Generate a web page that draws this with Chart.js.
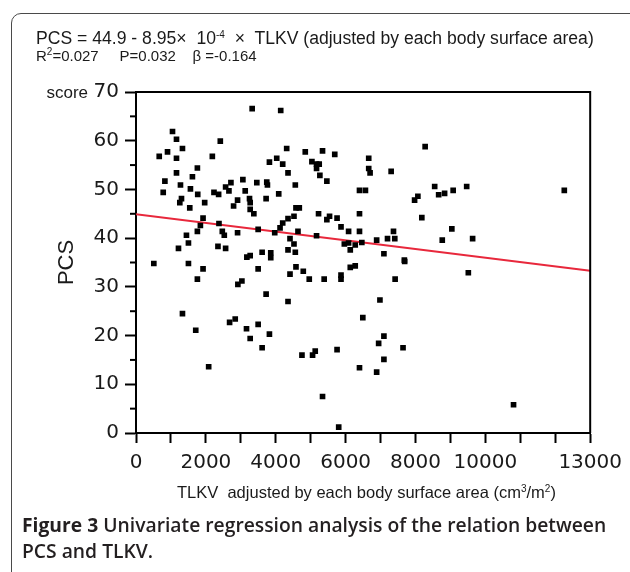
<!DOCTYPE html>
<html>
<head>
<meta charset="utf-8">
<script src="https://cdn.jsdelivr.net/npm/chart.js@4.4.0/dist/chart.umd.min.js"></script>
<style>
  body { margin: 0; background: #fff; }
  #wrap { position: relative; width: 630px; height: 572px; overflow: hidden; font-family: "Liberation Sans", Arial, sans-serif; color: #1a1a1a; }
  #frame { position: absolute; left: 11px; top: 13px; width: 700px; height: 700px; border: 1.5px solid #4a4a4a; border-radius: 10px; }
  #chart { position: absolute; left: 0; top: 0; }
  .eq { position: absolute; left: 36px; line-height: 18px; white-space: nowrap; }
  .eq sup { font-size: 10px; vertical-align: 6px; line-height: 0; }
  #xtitle { position: absolute; left: 177px; top: 484px; font-size: 16.5px; line-height: 16px; white-space: nowrap; }
  #xtitle sup { font-size: 10px; vertical-align: 6px; line-height: 0; }
  #caption { position: absolute; left: 22px; top: 512px; font-family: "Open Sans", sans-serif; font-size: 19.3px; line-height: 26px; font-weight: 600; color: #231f20; white-space: nowrap; }
  #caption b { font-weight: 700; }
</style>
</head>
<body>
<div id="wrap">
  <div id="frame"></div>
  <canvas id="chart" width="630" height="572"></canvas>
  <div class="eq" style="top:29px; font-size:17.6px">PCS = 44.9 - 8.95&times;&nbsp; 10<sup>-4</sup> &nbsp;&times;&nbsp; TLKV (adjusted by each body surface area)</div>
  <div class="eq" style="top:47px; font-size:15px">R<sup>2</sup>=0.027&nbsp;&nbsp;&nbsp;&nbsp; P=0.032&nbsp;&nbsp;&nbsp; &beta; =-0.164</div>
  <div id="xtitle">TLKV&nbsp; adjusted by each body surface area (cm<sup>3</sup>/m<sup>2</sup>)</div>
  <div id="caption"><b>Figure 3</b> Univariate regression analysis of the relation between<br>PCS and TLKV.</div>
</div>
<script>
// TLKV adjusted by BSA (x) et PCS score (y)
const tlkv = [
  510, 665, 779, 827, 902, 1045, 1159, 1159, 1159, 1330, 1273, 1302, 1254, 1539, 1558, 1615, 1757, 1767, 1966, 1919,
  1843, 1757, 1444, 1501, 1216, 1501, 1919, 2185, 2232, 2365, 2413, 2375, 2470, 2527, 2346, 2565, 2565, 2717, 2660, 2793,
  2907, 2907, 3059, 3126, 3249, 3268, 3268, 3373, 3325, 3173, 3268, 3496, 3496, 3458, 3743, 3762, 3724, 3819, 3610, 3857,
  3857, 4028, 4085, 4142, 4199, 4313, 4351, 4199, 4123, 3971, 4351, 4560, 4522, 4579, 4674, 4636, 4408, 4351, 4522, 4560,
  4579, 4408, 4788, 4845, 5035, 5168, 5244, 5168, 5263, 5339, 5463, 5225, 5463, 5168,
  1757, 1330, 1710, 2080, 2679, 2840, 2916, 3031, 3163, 3268, 3496, 3610, 3724, 3819, 4351, 4959, 5386, 4750, 5054, 5130, 5339,
  5868, 5868, 6133, 6275, 7417, 7681, 9512, 6982, 6492, 7096, 6945, 7643, 7096, 6397, 6888, 5755, 5802, 10806,
  5689, 6661, 6661, 6700, 7303, 6397, 6567, 8276, 8549, 8068, 7974, 8663, 8833, 9078, 9465, 12259, 5540, 5755, 6397, 8181,
  5868, 6085, 6397, 5963, 6085, 6133, 6275, 6464, 6888, 7199, 7407, 7370, 7096, 7690, 8766, 9040, 9635
];
const pcs = [
  34.8, 56.8, 49.4, 51.7, 57.7, 61.9, 60.3, 56.4, 53.4, 58.4, 50.9, 48.1, 47.3, 46.2, 50.1, 52.6, 54.4, 49.0, 47.3, 44.1,
  42.6, 41.4, 40.6, 39.0, 37.9, 34.8, 33.7, 56.8, 49.4, 49.0, 59.9, 43.0, 41.4, 40.6, 38.3, 37.9, 50.5, 51.4, 49.7, 46.6,
  47.8, 41.1, 52.0, 49.7, 48.1, 47.3, 45.9, 45.0, 66.6, 36.1, 36.4, 41.8, 33.7, 51.4, 51.5, 50.9, 48.1, 55.6, 37.1, 37.0,
  36.0, 56.4, 49.1, 66.2, 55.2, 58.4, 53.4, 43.1, 42.1, 41.1, 44.0, 50.9, 44.5, 46.2, 46.2, 41.4, 39.9, 37.6, 38.8, 37.1,
  34.1, 32.6, 33.2, 57.7, 55.7, 55.2, 55.2, 54.3, 52.9, 57.9, 51.7, 45.0, 43.8, 40.5,
  31.6, 24.5, 21.1, 13.6, 22.7, 23.4, 30.5, 31.2, 21.4, 19.4, 22.3, 17.5, 28.5, 20.3, 27.0, 31.6, 31.6, 16.0, 16.0, 16.8, 7.5,
  32.4, 31.6, 34.0, 34.3, 31.6, 35.5, 32.9, 27.3, 23.7, 19.9, 18.4, 17.5, 15.1, 13.4, 12.5, 17.1, 1.2, 5.8,
  57.2, 56.4, 54.3, 53.4, 53.7, 49.8, 49.8, 58.8, 50.6, 48.6, 47.8, 48.9, 49.2, 49.8, 50.6, 49.8, 44.5, 44.1, 45.0, 44.2,
  42.3, 41.4, 41.4, 38.8, 39.0, 37.6, 38.6, 39.1, 39.6, 39.9, 39.9, 41.4, 36.8, 35.2, 39.6, 41.9, 39.9
];
// droite de regression : PCS = 44.9 - 8.95e-4 x TLKV
const fitX = [0, 13000];
const fitY = [44.9, 33.3];
const xLabels = [0, 2000, 4000, 6000, 8000, 10000, 13000];
const yLabels = [0, 10, 20, 30, 40, 50, 60, 70];

const tickFont = { family: 'DejaVu Sans', size: 20 };

// cadre du graphe, petites graduations et mot "score"
const boxPlugin = {
  id: 'box',
  afterDraw(chart) {
    const ctx = chart.ctx;
    const a = chart.chartArea;
    const ys = chart.scales.y;
    ctx.save();
    ctx.strokeStyle = '#000';
    ctx.lineWidth = 2;
    ctx.beginPath();
    ctx.moveTo(a.left, a.top);
    ctx.lineTo(a.right, a.top);
    ctx.lineTo(a.right, a.bottom);
    ctx.stroke();
    ys.ticks.forEach(t => {
      if (yLabels.includes(t.value)) return;
      const y = ys.getPixelForValue(t.value);
      ctx.beginPath();
      ctx.moveTo(a.left - 6, y);
      ctx.lineTo(a.left, y);
      ctx.stroke();
    });
    ctx.fillStyle = '#1a1a1a';
    ctx.font = '17px "Liberation Sans"';
    ctx.textAlign = 'right';
    ctx.textBaseline = 'middle';
    ctx.fillText('score', 88, ys.getPixelForValue(70) + 1);
    ctx.restore();
  }
};

const ctx = document.getElementById('chart').getContext('2d');
new Chart(ctx, {
  type: 'scatter',
  data: {
    datasets: [
      {
        data: tlkv.map((x, i) => ({ x: x, y: pcs[i] })),
        pointStyle: 'rect',
        pointRadius: 4,
        backgroundColor: '#000',
        borderWidth: 0
      },
      {
        type: 'line',
        data: fitX.map((x, i) => ({ x: x, y: fitY[i] })),
        borderColor: '#e8283c',
        borderWidth: 2,
        pointRadius: 0
      }
    ]
  },
  options: {
    responsive: false,
    animation: false,
    layout: { padding: { left: 50, top: 92, right: 38, bottom: 99 } },
    plugins: { legend: { display: false }, tooltip: { enabled: false } },
    scales: {
      x: {
        type: 'linear',
        min: 0,
        max: 13000,
        afterFit: s => { s.height = 40; },
        ticks: {
          stepSize: 1000,
          autoSkip: false,
          maxRotation: 0,
          padding: 8,
          color: '#1a1a1a',
          font: tickFont,
          callback: v => xLabels.includes(v) ? String(v) : ''
        },
        grid: { drawOnChartArea: false, tickLength: 10, tickColor: '#000', tickWidth: 2 },
        border: { color: '#000', width: 2 }
      },
      y: {
        min: 0,
        max: 70,
        afterFit: s => { s.width = 86; },
        ticks: {
          stepSize: 5,
          autoSkip: false,
          padding: 6,
          color: '#1a1a1a',
          font: tickFont,
          callback: v => yLabels.includes(v) ? String(v) : ''
        },
        grid: {
          drawOnChartArea: false,
          tickLength: 11,
          tickWidth: 2,
          tickColor: c => (c.tick && yLabels.includes(c.tick.value)) ? '#000' : 'rgba(0,0,0,0)'
        },
        border: { color: '#000', width: 2 },
        title: {
          display: true,
          text: 'PCS',
          color: '#1a1a1a',
          font: { family: 'Liberation Sans', size: 22 },
          padding: { top: 4, bottom: 0 }
        }
      }
    }
  },
  plugins: [boxPlugin]
});
</script>
</body>
</html>
